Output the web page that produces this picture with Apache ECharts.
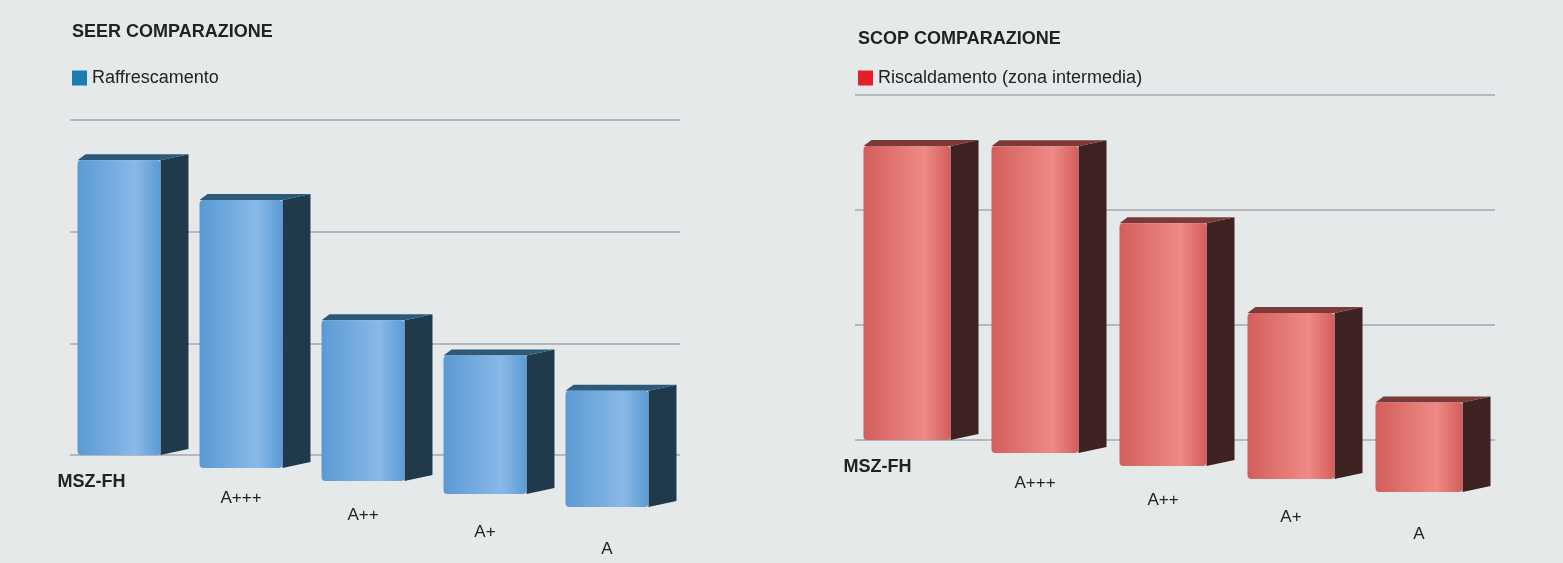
<!DOCTYPE html>
<html><head><meta charset="utf-8">
<script src="https://cdn.jsdelivr.net/npm/echarts@6/dist/echarts.min.js"></script>
<style>html,body{margin:0;background:#e6e9ea}#c{width:1563px;height:563px}</style>
</head><body><div id="c"></div>
<script>
const categories = ['MSZ-FH', 'A+++', 'A++', 'A+', 'A'];
const seerValues = [9.1, 8.5, 6.1, 5.6, 5.1];
const scopValues = [5.0, 5.1, 4.6, 4.0, 3.4];

const chart = echarts.init(document.getElementById('c'));

function bar3d(front, frontLight, side, top, min) {
  return function (params, api) {
    const i = api.value(0);
    const drop = i * 13;
    const p = api.coord([i, api.value(1)]);
    const b = api.coord([i, min]);
    const w = api.size([1, 0])[0] * 0.68;
    const d = 28;
    const x0 = p[0] - w / 2 - 12, x1 = x0 + w;
    const yt = p[1] + drop, yb = b[1] + drop;
    const label = categories[i];
    return {
      type: 'group',
      children: [
        { type: 'polygon', shape: { points: [[x1, yt], [x1 + d, yt - 6], [x1 + d, yb - 6], [x1, yb]] },
          style: { fill: side } },
        { type: 'polygon', shape: { points: [[x0, yt], [x0 + 8, yt - 6], [x1 + d, yt - 6], [x1, yt]] },
          style: { fill: top } },
        { type: 'rect', shape: { x: x0, y: yt, width: w, height: yb - yt, r: 4 },
          style: { fill: new echarts.graphic.LinearGradient(0, 0, 1, 0,
            [{ offset: 0, color: front }, { offset: 0.7, color: frontLight }, { offset: 1, color: front }]) } },
        { type: 'text', x: i === 0 ? x0 - 20 : x0 + w / 2, y: yb + (i === 0 ? 18 : 18 + i * 4),
          style: { text: label, fill: '#222', font: (i === 0 ? 'bold 18px' : '17px') + ' Liberation Sans',
            align: i === 0 ? 'left' : 'center' } }
      ]
    };
  };
}

const yAx = (min, max, interval, idx) => ({
  gridIndex: idx, min: min, max: max, interval: interval, axisLabel: { show: false },
  axisLine: { show: false }, axisTick: { show: false },
  splitLine: { lineStyle: { color: '#b4b7be', width: 2 } }
});
const xAx = idx => ({ type: 'category', gridIndex: idx, data: categories,
  axisLine: { show: false }, axisTick: { show: false }, axisLabel: { show: false } });

chart.setOption({
  backgroundColor: '#e6e9ea',
  animation: false,
  title: [
    { text: 'SEER COMPARAZIONE', left: 67, top: 18, textStyle: { fontSize: 18, fontWeight: 'bold', color: '#222', fontFamily: 'Liberation Sans' } },
    { text: 'SCOP COMPARAZIONE', left: 853, top: 25, textStyle: { fontSize: 18, fontWeight: 'bold', color: '#222', fontFamily: 'Liberation Sans' } }
  ],
  legend: [
    { data: ['Raffrescamento'], left: 67, top: 64, icon: 'rect', itemWidth: 15, itemHeight: 15,
      textStyle: { fontSize: 18, color: '#222', fontFamily: 'Liberation Sans' } },
    { data: ['Riscaldamento (zona intermedia)'], left: 853, top: 64, icon: 'rect', itemWidth: 15, itemHeight: 15,
      textStyle: { fontSize: 18, color: '#222', fontFamily: 'Liberation Sans' } }
  ],
  grid: [
    { left: 70, width: 610, top: 120, bottom: 108 },
    { left: 855, width: 640, top: 95, bottom: 123 }
  ],
  xAxis: [xAx(0), xAx(1)],
  yAxis: [yAx(2.5, 10, 2.5, 0), yAx(2.7, 5.4, 0.9, 1)],
  series: [
    { name: 'Raffrescamento', type: 'custom', xAxisIndex: 0, yAxisIndex: 0, itemStyle: { color: '#1a7fb0' },
      renderItem: bar3d('#5a9ad4', '#8ab9e8', '#203a4c', '#2e5a7a', 2.5),
      data: seerValues.map((v, i) => [i, v]) },
    { name: 'Riscaldamento (zona intermedia)', type: 'custom', xAxisIndex: 1, yAxisIndex: 1, itemStyle: { color: '#e32026' },
      renderItem: bar3d('#d25e5c', '#f08a86', '#3e2222', '#7a3a38', 2.7),
      data: scopValues.map((v, i) => [i, v]) }
  ]
});
</script></body></html>
